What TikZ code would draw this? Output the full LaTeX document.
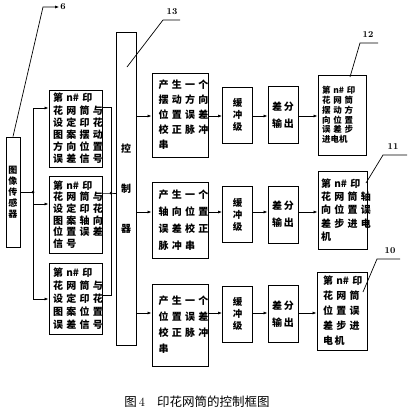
\documentclass[tikz,border=0pt]{standalone}
\usepackage{fontspec}
\newfontfamily\cjk{Noto Sans CJK SC}
\usetikzlibrary{arrows.meta}
\newlength\rowwd
\newcommand{\rw}[1]{\makebox[\rowwd][s]{#1}}
\newcommand{\rp}[2]{\makebox[#1\rowwd][s]{#2}}

\begin{document}
\begin{tikzpicture}[x=1pt,y=-1pt,
    boite/.style={draw, line width=0.9pt, inner sep=0pt},
    texte/.style={boite, align=left, text width=#1,
      execute at begin node={\setlength\rowwd{#1}}},
    fl/.style={-{Latex[length=4pt,width=3pt]}, line width=0.7pt},
    trait/.style={line width=0.7pt},
    repere/.style={font=\bfseries\small, inner sep=1pt}]
  \useasboundingbox (0,0) rectangle (409,410);

  % Capteur d'image
  \node[boite, minimum width=14, minimum height=110, align=center,
    font=\cjk\bfseries\fontsize{9}{11}\selectfont] (capteur) at (13,192) {图\\像\\传\\感\\器};

  % Signaux d'erreur
  \node[texte=45pt, minimum width=53, minimum height=77,
    font=\cjk\bfseries\fontsize{10}{12.2}\selectfont] (gauche1) at (75.5,128.5)
    {\rw{第 n\# 印}\\\rw{花 网 筒 与}\\\rw{设 定 印 花}\\\rw{图 案 摆 动}\\\rw{方 向 位 置}\\\rw{误 差 信 号}};
  \node[texte=45pt, minimum width=53, minimum height=77,
    font=\cjk\bfseries\fontsize{10}{11.7}\selectfont] (gauche2) at (75.5,214.5)
    {\rw{第 n\# 印}\\\rw{花 网 筒 与}\\\rw{设 定 印 花}\\\rw{图 案 轴 向}\\\rw{位 置 误 差}\\\rp{0.48}{信 号}};
  \node[texte=45pt, minimum width=53, minimum height=71,
    font=\cjk\bfseries\fontsize{10}{13}\selectfont] (gauche3) at (75.5,298.5)
    {\rw{第 n\# 印}\\\rw{花 网 筒 与}\\\rw{设 定 印 花}\\\rw{图 案 位 置}\\\rw{误 差 信 号}};

  % Controleur
  \node[boite, minimum width=20, minimum height=313, align=center,
    font=\cjk\bfseries\fontsize{10}{40}\selectfont] (ctrl) at (126,188.5) {控\\制\\器};

  % Generateurs d'impulsions
  \node[texte=43pt, minimum width=56, minimum height=84,
    font=\cjk\bfseries\fontsize{10}{15}\selectfont] (genA) at (180,115)
    {\rw{产 生 一 个}\\\rw{摆 动 方 向}\\\rw{位 置 误 差}\\\rw{校 正 脉 冲}\\串};
  \node[texte=43pt, minimum width=56, minimum height=76,
    font=\cjk\bfseries\fontsize{10}{17}\selectfont] (genB) at (180,220)
    {\rw{产 生 一 个}\\\rw{轴 向 位 置}\\\rw{误 差 校 正}\\\rp{0.76}{脉 冲 串}};
  \node[texte=43pt, minimum width=56, minimum height=82,
    font=\cjk\bfseries\fontsize{10}{16}\selectfont] (genC) at (180,325)
    {\rw{产 生 一 个}\\\rw{位 置 误 差}\\\rw{校 正 脉 冲}\\串};

  % Tampons et sorties differentielles
  \foreach \r/\y in {A/115,B/214.5,C/314}{
    \node[boite, minimum width=30, minimum height=56, align=center,
      font=\cjk\bfseries\fontsize{9.5}{12}\selectfont] (tamp\r) at (237.5,\y) {缓\\冲\\级};
    \node[boite, minimum width=30, minimum height=57, align=center,
      font=\cjk\bfseries\fontsize{10}{17}\selectfont] (diff\r) at (283,\y) {差\,分\\输\,出};
  }

  % Moteurs pas a pas
  \node[texte=40pt, minimum width=48, minimum height=80,
    font=\cjk\bfseries\fontsize{8.5}{9.8}\selectfont] (motA) at (342,115)
    {\rw{第 n\# 印}\\\rw{花 网 筒}\\\rw{摆 动 方}\\\rw{向 位 置}\\\rw{误 差 步}\\进电机};
  \node[texte=43pt, minimum width=49, minimum height=78,
    font=\cjk\bfseries\fontsize{10}{13.2}\selectfont] (motB) at (342.5,210)
    {\rw{第 n\# 印}\\\rw{花 网 筒 轴}\\\rw{向 位 置 误}\\\rw{差 步 进 电}\\机};
  \node[texte=38pt, minimum width=50, minimum height=78,
    font=\cjk\bfseries\fontsize{10}{15}\selectfont] (motC) at (342,311)
    {\rw{第 n\# 印}\\\rw{花 网 筒}\\\rw{位 置 误}\\\rw{差 步 进}\\电\,机};

  % Bus d'entree
  \coordinate (j1) at (33,192);
  \coordinate (b1) at (33,108);
  \coordinate (b2) at (33,204);
  \coordinate (b3) at (33,299);
  \draw[trait] (capteur.east |- j1) -- (j1);
  \draw[trait] (b1) -- (b3);
  \fill (j1) circle (1.5);
  \draw[fl] (b1) -- (b1 -| gauche1.west);
  \draw[fl] (b2) -- (b2 -| gauche2.west);
  \draw[fl] (b3) -- (b3 -| gauche3.west);

  % Bus de sortie vers le controleur
  \coordinate (s1) at (111,107);
  \coordinate (j2) at (111,193);
  \coordinate (s3) at (111,295);
  \draw[trait] (s1 -| gauche1.east) -- (s1) -- (s3) -- (s3 -| gauche3.east);
  \draw[trait] (j2 -| gauche2.east) -- (j2) -- (j2 -| ctrl.west);
  \fill (j2) circle (1.5);

  % Chaines de commande
  \coordinate (rA) at (0,116);
  \coordinate (rB) at (0,212);
  \coordinate (rC) at (0,313);
  \foreach \r in {A,B,C}{
    \draw[fl] (ctrl.east |- r\r) -- (gen\r.west |- r\r);
    \draw[fl] (gen\r.east |- r\r) -- (tamp\r.west |- r\r);
    \draw[fl] (tamp\r.east |- r\r) -- (diff\r.west |- r\r);
    \draw[fl] (diff\r.east |- r\r) -- (mot\r.west |- r\r);
  }

  % Reperes
  \node[repere] (n6) at (63,7) {6};
  \draw[fl] (capteur.north) -- (43,7) -- (n6.west);
  \node[repere] (n13) at (172,12) {13};
  \draw[trait] (127,67) -- (163,20) -- (180,20);
  \node[repere] (n12) at (368,35) {12};
  \draw[trait] (350,77) -- (360,43) -- (378,43);
  \node[repere] (n11) at (393,147) {11};
  \draw[trait] (366,183) -- (383,155) -- (407,155);
  \node[repere] (n10) at (390,251) {10};
  \draw[trait] (363,292) -- (377,259) -- (400,259);

  % Legende
  \node[font=\cjk\fontsize{12.5}{14}\selectfont] (titre) at (197,402)
    {图\,{\rmfamily 4}\hspace{12pt}印花网筒的控制框图};
\end{tikzpicture}
\end{document}
